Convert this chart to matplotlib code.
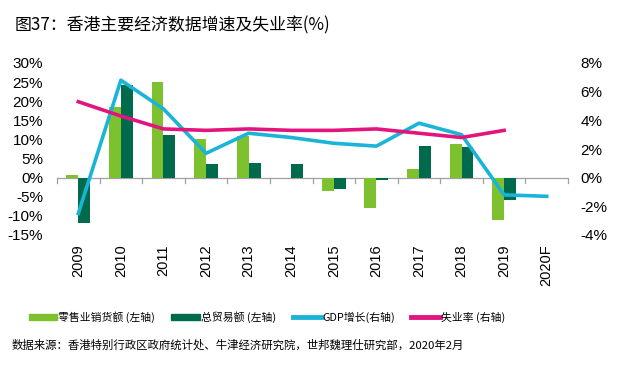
import matplotlib
matplotlib.use("Agg")
import matplotlib.pyplot as plt
import numpy as np
from matplotlib.lines import Line2D
from matplotlib.patches import Patch

plt.rcParams['font.family'] = ['Liberation Sans', 'Noto Sans CJK SC', 'DejaVu Sans']

years = ['2009', '2010', '2011', '2012', '2013', '2014', '2015', '2016', '2017', '2018', '2019', '2020F']
retail = [0.7, 18.5, 25.0, 10.0, 11.0, -0.2, -3.6, -8.0, 2.2, 8.8, -11.0, np.nan]
trade = [-11.8, 24.3, 11.1, 3.5, 3.8, 3.6, -3.0, -0.6, 8.4, 8.0, -5.8, np.nan]
gdp = [-2.5, 6.8, 4.8, 1.7, 3.1, 2.8, 2.4, 2.2, 3.8, 3.0, -1.2, -1.3]
unemp = [5.3, 4.3, 3.4, 3.3, 3.4, 3.3, 3.3, 3.4, 3.1, 2.8, 3.3, np.nan]

c_retail = '#7DC22E'
c_trade = '#006B4C'
c_gdp = '#1AB4D7'
c_unemp = '#E2157F'

fig = plt.figure(figsize=(6.24, 3.69), dpi=100)
ax = fig.add_axes([57/624, 1-235/369, (568-57)/624, (235-63)/369])
ax2 = ax.twinx()

x = np.arange(len(years))
w = 0.28
ax.bar(x - w/2, retail, w, color=c_retail, zorder=2)
ax.bar(x + w/2, trade, w, color=c_trade, zorder=2)
ax.set_ylim(-15, 30)
ax.set_yticks(np.arange(-15, 31, 5))
ax.set_yticklabels([f'{v}%' for v in range(-15, 31, 5)], fontsize=11)
ax.set_xlim(-0.5, len(years) - 0.5)
ax.set_xticks(x)
ax.set_xticklabels(years, rotation=90, fontsize=10.5)
ax.tick_params(axis='x', length=0, pad=7)
ax.tick_params(axis='y', length=0, pad=10)
for s in ['top', 'right', 'left', 'bottom']:
    ax.spines[s].set_visible(False)
    ax2.spines[s].set_visible(False)
# zero axis line with category-boundary ticks
ax.axhline(0, color='#A0A0A0', lw=0.9, zorder=1)
for b in np.arange(-0.5, len(years), 1.0):
    ax.plot([b, b], [0, -1.3], color='#A0A0A0', lw=0.9, zorder=1, clip_on=False)

ax2.plot(x, gdp, color=c_gdp, lw=2.6, zorder=3)
ax2.plot(x, unemp, color=c_unemp, lw=2.6, zorder=4)
ax2.set_ylim(-4, 8)
ax2.set_yticks(np.arange(-4, 9, 2))
ax2.set_yticklabels([f'{v}%' for v in range(-4, 9, 2)], fontsize=11)
ax2.tick_params(axis='y', length=0, pad=9)

fig.text(15/624, 1-25/369, '图37：香港主要经济数据增速及失业率(%)', fontsize=12.2,
         family=['Noto Sans CJK SC', 'DejaVu Sans'], va='center', ha='left')

handles = [Patch(color=c_retail), Patch(color=c_trade),
           Line2D([], [], color=c_gdp, lw=3.5), Line2D([], [], color=c_unemp, lw=3.5)]
labels = ['零售业销货额 (左轴)', '总贸易额 (左轴)', 'GDP增长(右轴)', '失业率 (右轴)']
leg = fig.legend(handles, labels, loc='center', bbox_to_anchor=(267/624, 1-317/369), ncol=4,
                 frameon=False, handlelength=2.6, handleheight=0.55,
                 handletextpad=0.15, columnspacing=1.5,
                 prop={'family': ['Noto Sans CJK SC', 'DejaVu Sans'], 'size': 7.8})

fig.text(12/624, 1-345/369, '数据来源：香港特别行政区政府统计处、牛津经济研究院，世邦魏理仕研究部，2020年2月',
         fontsize=8.2, style='italic', family=['Noto Sans CJK SC', 'DejaVu Sans'], va='center', ha='left')

fig.savefig('out.png', dpi=100)
